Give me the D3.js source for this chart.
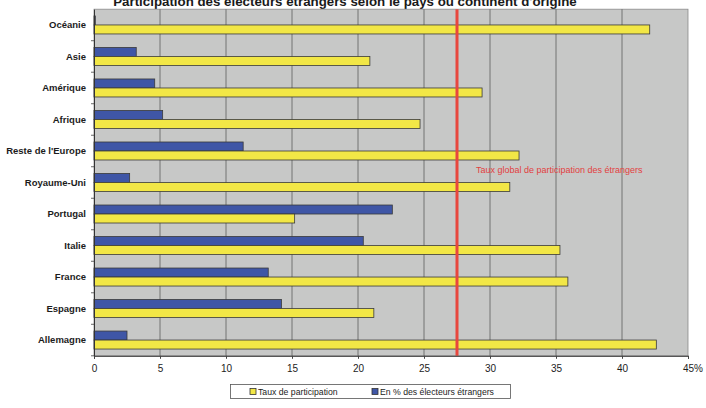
<!DOCTYPE html>
<html lang="fr">
<head>
<meta charset="utf-8">
<script src="https://cdn.jsdelivr.net/npm/d3@7"></script>
<style>
  html, body { margin: 0; padding: 0; background: #fff; }
  svg { display: block; font-family: "Liberation Sans", Arial, sans-serif; }
</style>
</head>
<body>
<svg id="chart" width="706" height="408"></svg>
<script>
// Origine des électeurs étrangers (de haut en bas)
const categories = ["Océanie", "Asie", "Amérique", "Afrique", "Reste de l'Europe",
  "Royaume-Uni", "Portugal", "Italie", "France", "Espagne", "Allemagne"];
// Taux de participation (%)
const tauxParticipation = [42.1, 20.9, 29.4, 24.7, 32.2, 31.5, 15.2, 35.3, 35.9, 21.2, 42.6];
// Part dans l'ensemble des électeurs étrangers (%)
const partElecteurs = [0.1, 3.2, 4.6, 5.2, 11.3, 2.7, 22.6, 20.4, 13.2, 14.2, 2.5];
// Taux global de participation des étrangers (%)
const tauxGlobal = [27.5];
// Graduations de l'axe horizontal
const xTicks = [0, 5, 10, 15, 20, 25, 30, 35, 40, 45];
const seriesNames = ["Taux de participation", "En % des électeurs étrangers"];
const titre = "Participation des électeurs étrangers selon le pays ou continent d'origine";

const svg = d3.select("#chart");
const plot = { left: 94, right: 688, top: 9.2, bottom: 355.8 };

const x = d3.scaleLinear().domain([0, 45]).range([plot.left, plot.right]);
const y = d3.scaleBand().domain(categories).range([plot.top, plot.bottom]).padding(0);
const barH = 9;

const colors = { yellow: "#f2e746", blue: "#3f56a6", stroke: "#3a3a3a", red: "#e8473e" };

// Titre (coupé en haut de la page)
svg.append("text")
  .attr("x", 345).attr("y", 5.5)
  .attr("text-anchor", "middle")
  .attr("font-size", 13.3).attr("font-weight", "bold")
  .attr("fill", "#1a1a1a")
  .text(titre);

// Fond de la zone de tracé
svg.append("rect")
  .attr("x", plot.left).attr("y", plot.top)
  .attr("width", plot.right - plot.left).attr("height", plot.bottom - plot.top)
  .attr("fill", "#c7c8c7").attr("stroke", "#8a8a8a").attr("stroke-width", 0.8);

// Quadrillage vertical
svg.append("g").selectAll("line")
  .data(xTicks.filter(d => d > 0 && d < 45))
  .join("line")
  .attr("x1", d => x(d)).attr("x2", d => x(d))
  .attr("y1", plot.top).attr("y2", plot.bottom)
  .attr("stroke", "#5e5e5e").attr("stroke-width", 0.8);

// Barres : part des électeurs (bleu, en haut), taux de participation (jaune, en bas)
const rows = categories.map((c, i) => ({ c, taux: tauxParticipation[i], part: partElecteurs[i] }));
const gBars = svg.append("g");
gBars.selectAll("rect.part")
  .data(rows).join("rect").attr("class", "part")
  .attr("x", x(0))
  .attr("y", d => y(d.c) + y.bandwidth() / 2 - barH)
  .attr("width", d => x(d.part) - x(0))
  .attr("height", barH)
  .attr("fill", colors.blue).attr("stroke", colors.stroke).attr("stroke-width", 0.8);
gBars.selectAll("rect.taux")
  .data(rows).join("rect").attr("class", "taux")
  .attr("x", x(0))
  .attr("y", d => y(d.c) + y.bandwidth() / 2)
  .attr("width", d => x(d.taux) - x(0))
  .attr("height", barH)
  .attr("fill", colors.yellow).attr("stroke", colors.stroke).attr("stroke-width", 0.8);

// Ligne du taux global
svg.append("g").selectAll("line")
  .data(tauxGlobal).join("line")
  .attr("x1", d => x(d)).attr("x2", d => x(d))
  .attr("y1", plot.top).attr("y2", plot.bottom)
  .attr("stroke", colors.red).attr("stroke-width", 3);
svg.append("text")
  .attr("x", 476).attr("y", 172.5)
  .attr("font-size", 9).attr("fill", "#e2403f")
  .text("Taux global de participation des étrangers");

// Axe des catégories
const yAxis = svg.append("g")
  .attr("transform", `translate(${plot.left},0)`)
  .call(d3.axisLeft(y).tickSize(0).tickPadding(8));
yAxis.select(".domain").attr("stroke", "#333");
yAxis.selectAll("text")
  .attr("font-size", 9.5).attr("font-weight", "bold")
  .attr("fill", "#1c1c1c").attr("font-family", "Liberation Sans, Arial, sans-serif");
// Petites graduations entre les catégories
svg.append("g").selectAll("line")
  .data(categories.slice(1).concat([null]))
  .join("line")
  .attr("x1", plot.left - 3).attr("x2", plot.left)
  .attr("y1", d => d === null ? plot.bottom : y(d))
  .attr("y2", d => d === null ? plot.bottom : y(d))
  .attr("stroke", "#444").attr("stroke-width", 0.8);

// Axe horizontal
const xAxis = svg.append("g")
  .attr("transform", `translate(0,${plot.bottom})`)
  .call(d3.axisBottom(x).tickValues(xTicks).tickSize(3).tickPadding(6)
    .tickFormat(d => d === 45 ? "45%" : d));
xAxis.select(".domain").attr("stroke", "#333");
xAxis.selectAll(".tick line").attr("stroke", "#444");
xAxis.selectAll("text")
  .attr("font-size", 10).attr("fill", "#1c1c1c")
  .attr("font-family", "Liberation Sans, Arial, sans-serif")
  .attr("dx", d => d === 45 ? 4.5 : 0);

// Légende
const legend = svg.append("g");
legend.append("rect")
  .attr("x", 230.5).attr("y", 384.5).attr("width", 280).attr("height", 14)
  .attr("fill", "#fff").attr("stroke", "#555").attr("stroke-width", 0.8);
const legendItems = [
  { name: seriesNames[0], color: colors.yellow, x: 250 },
  { name: seriesNames[1], color: colors.blue, x: 372 }
];
const li = legend.selectAll("g.item").data(legendItems).join("g").attr("class", "item");
li.append("rect")
  .attr("x", d => d.x).attr("y", 388.5).attr("width", 6).attr("height", 6)
  .attr("fill", d => d.color).attr("stroke", "#333").attr("stroke-width", 0.8);
li.append("text")
  .attr("x", d => d.x + 8).attr("y", 394.8)
  .attr("font-size", 8.7).attr("fill", "#1c1c1c")
  .text(d => d.name);
</script>
</body>
</html>
